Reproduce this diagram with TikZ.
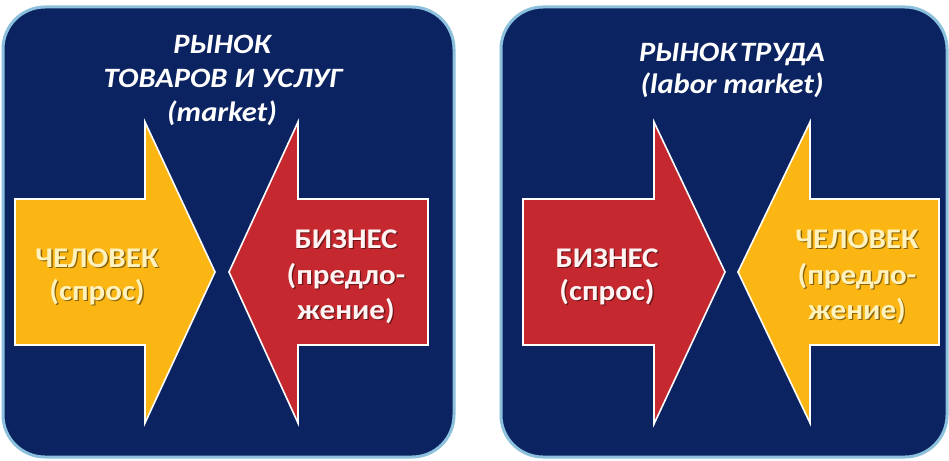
\documentclass[tikz,border=0pt]{standalone}
\usepackage{fontspec}
\setmainfont{Carlito}
\definecolor{navy}{HTML}{0B2360}
\definecolor{panelborder}{HTML}{8CC0DC}
\definecolor{redarrow}{HTML}{C5282F}
\definecolor{yellowarrow}{HTML}{FBB614}
\definecolor{creamtext}{HTML}{FFF2BC}
\definecolor{pinkwhite}{HTML}{FFF4F4}
\begin{document}
\begin{tikzpicture}[x=1pt,y=-1pt,
  panel/.style={fill=navy, draw=panelborder, line width=3pt, rounded corners=42pt},
  arrowshape/.style={draw=white, line width=1.6pt, line join=miter},
  title/.style={text=white, font=\fontsize{28}{30}\selectfont\bfseries\itshape, anchor=base, inner sep=0pt, xscale=1.09},
  lbl/.style={font=\fontsize{28.5}{30}\selectfont\bfseries, anchor=base, inner sep=0pt, xscale=1.09},
  shadowlbl/.style={lbl, text=black, opacity=0.45},
]
\useasboundingbox (0,0) rectangle (949,460);
\fill[white] (0,0) rectangle (949,460);

% panels
\draw[panel] (3,7) rectangle (454,457);
\draw[panel] (501,7) rectangle (947,457);

% left panel arrows
\draw[arrowshape, fill=yellowarrow] (15,199) -- (145,199) -- (145,122) -- (215,272) -- (145,423) -- (145,345) -- (15,345) -- cycle;
\draw[arrowshape, fill=redarrow] (428,199) -- (298,199) -- (298,122) -- (229,272) -- (298,423) -- (298,345) -- (428,345) -- cycle;

% right panel arrows
\draw[arrowshape, fill=redarrow] (523,199) -- (654,199) -- (654,122) -- (725,272) -- (654,424) -- (654,345) -- (523,345) -- cycle;
\draw[arrowshape, fill=yellowarrow] (939,199) -- (810,199) -- (810,122) -- (738,272) -- (810,423) -- (810,345) -- (939,345) -- cycle;

% titles
\node[title] (t1a) at (222,53) {РЫНОК};
\node[title] (t1b) at (223,87) {ТОВАРОВ И УСЛУГ};
\node[title] (t1c) at (222,121) {(market)};
\node[title] (t2a) at (732,62) {РЫНОК\hspace{0.12em}ТРУДА};
\node[title] (t2b) at (732,93) {(labor market)};

% labels
\foreach \dx/\dy/\st/\col in {1.3/1.3/shadowlbl/black, 0/0/lbl/creamtext}{
  \node[\st, text=\col] at (97+\dx,267+\dy) {ЧЕЛОВЕК};
  \node[\st, text=\col] at (97+\dx,300+\dy) {(спрос)};
  \node[\st, text=\col] at (857+\dx,248+\dy) {ЧЕЛОВЕК};
  \node[\st, text=\col] at (857+\dx,284+\dy) {(предло-};
  \node[\st, text=\col] at (857+\dx,319+\dy) {жение)};
}
\foreach \dx/\dy/\st/\col in {1.3/1.3/shadowlbl/black, 0/0/lbl/pinkwhite}{
  \node[\st, text=\col] at (346+\dx,248+\dy) {БИЗНЕС};
  \node[\st, text=\col] at (346+\dx,284+\dy) {(предло-};
  \node[\st, text=\col] at (346+\dx,319+\dy) {жение)};
  \node[\st, text=\col] at (607+\dx,267+\dy) {БИЗНЕС};
  \node[\st, text=\col] at (607+\dx,300+\dy) {(спрос)};
}
\end{tikzpicture}
\end{document}
